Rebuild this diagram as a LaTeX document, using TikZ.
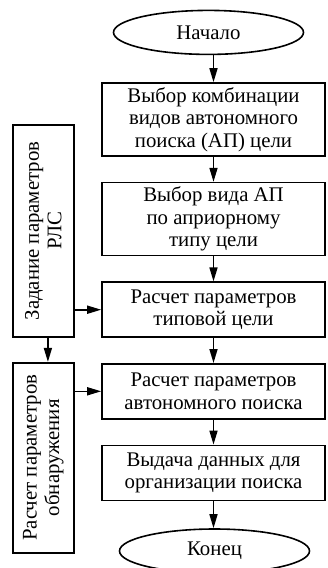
\documentclass[tikz,border=0pt]{standalone}
\usepackage{fontspec}
\setmainfont{Liberation Serif}
\usetikzlibrary{shapes,arrows.meta,positioning}
\tikzstyle{block} = [rectangle, draw, line width=1.6pt, text centered, inner sep=2pt]
\tikzstyle{process} = [block, minimum width=223pt, minimum height=55pt]
\tikzstyle{tall} = [process, minimum height=73pt]
\tikzstyle{side} = [block, rotate=90, minimum height=61pt]
\tikzstyle{terminal} = [ellipse, draw, line width=1.6pt, minimum width=190pt, minimum height=44pt]
\tikzstyle{arrow} = [draw, line width=1.6pt, -{Triangle[length=14pt,width=8pt]}]

\begin{document}
\begin{tikzpicture}[
    x=1pt, y=-1pt,
    node distance=25pt,
    every node/.style={align=center, font=\fontsize{20.8}{22.5}\selectfont}
]
    \useasboundingbox (0,0) rectangle (328,568);

    \node[tall] (combo) at (213.5,119.5) {Выбор комбинации\\ видов автономного\\ поиска (АП) цели};
    \node[terminal, above = 27pt of combo, xshift=-5pt] (start) {Начало};
    \node[tall, below = of combo] (kind) {Выбор вида АП\\ по априорному\\ типу цели};
    \node[process, below = of kind] (typical) {Расчет параметров\\ типовой цели};
    \node[process, below = of typical] (search) {Расчет параметров\\ автономного поиска};
    \node[process, below = of search] (output) {Выдача данных для\\ организации поиска};
    \node[terminal, below = 27pt of output, xshift=1pt] (finish) {Конец};

    % side column
    \node[side, minimum width=212pt] (rls) at (43.4,231) {Задание параметров\\ РЛС};
    \node[side, minimum width=190pt] (detect) at (43.4,457.7) {Расчет параметров\\ обнаружения};

    \path[arrow] (combo.north |- start.south) -- (combo);
    \path[arrow] (combo) -- (kind);
    \path[arrow] (kind) -- (typical);
    \path[arrow] (typical) -- (search);
    \path[arrow] (search) -- (output);
    \path[arrow] (output.south) -- (finish.north -| output.south);

    \path[arrow] (rls.south |- typical) -- (typical.west);
    \path[arrow] ([xshift=4.5pt]rls.west) -- ([xshift=4.5pt]detect.east);
    \path[arrow] (detect.south |- search) -- (search.west);
\end{tikzpicture}
\end{document}
